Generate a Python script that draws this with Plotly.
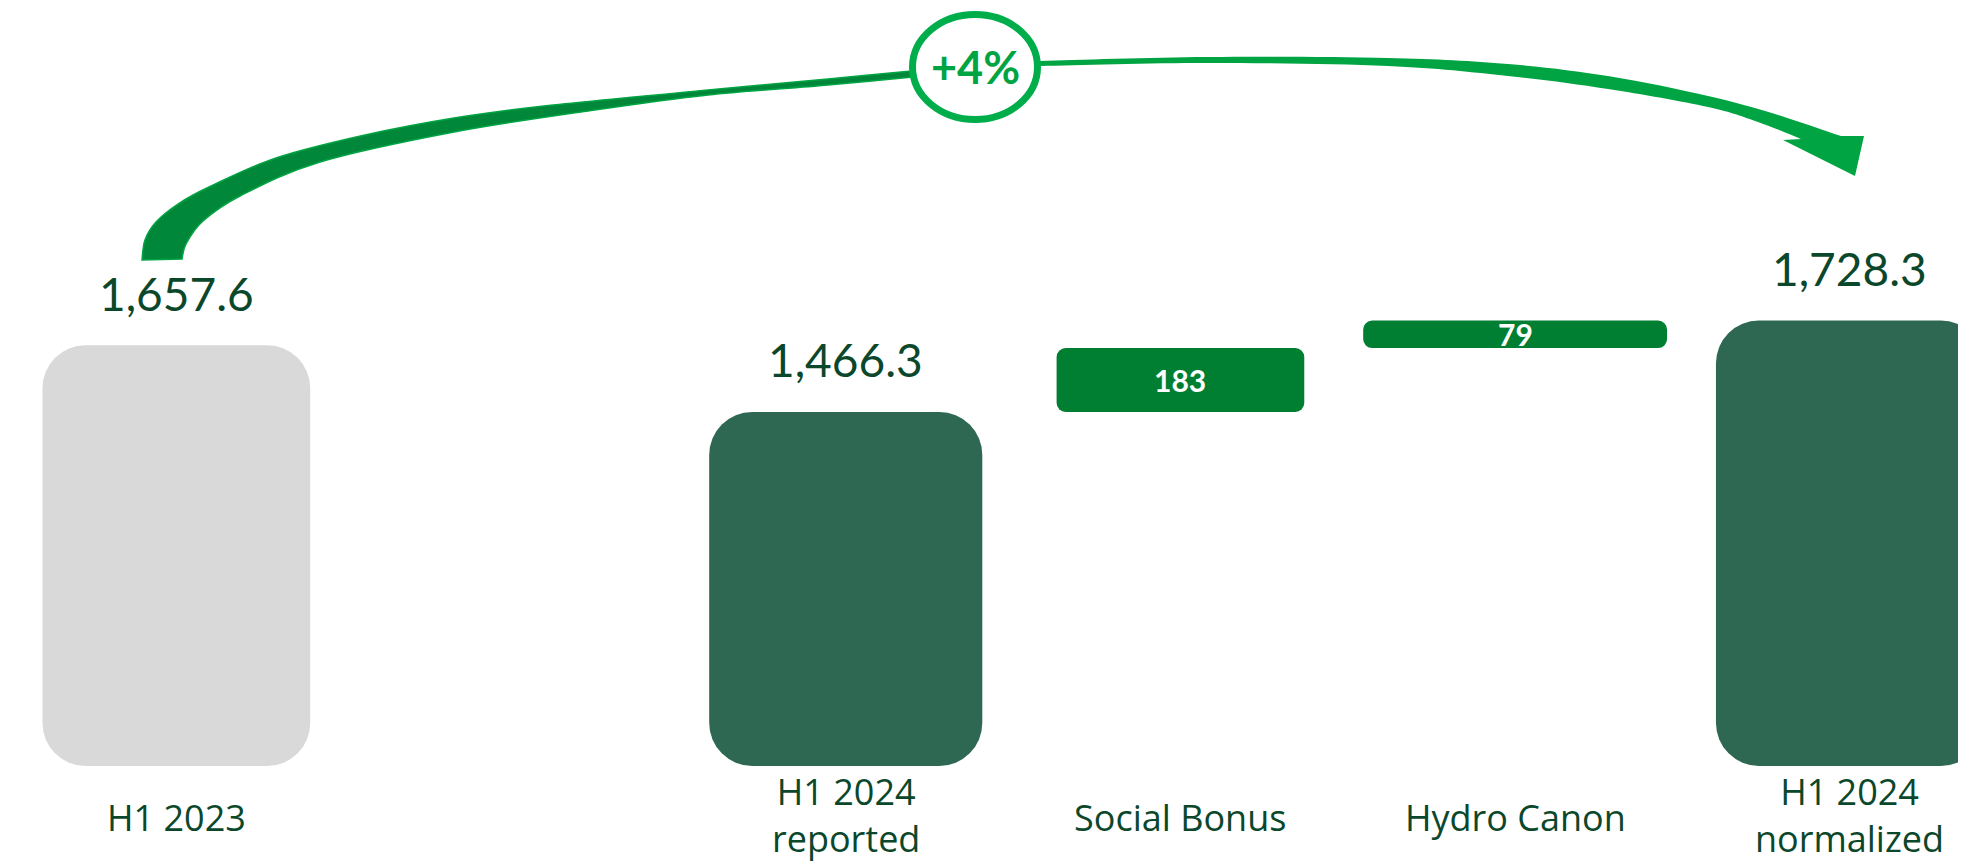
import plotly.graph_objects as go

# ---------------- data ----------------
labels = ["H1 2023", "H1 2024<br>reported", "Social Bonus", "Hydro Canon", "H1 2024<br>normalized"]
kinds = ["total", "total", "delta", "delta", "total"]
values = [1657.6, 1466.3, 183, 79, 1728.3]
SPACER = " "  # empty slot between H1 2023 and H1 2024 reported

# ---------------- style ----------------
W, H = 1966, 862
BASE = 452            # visual baseline of the total bars
Y_RANGE = [153.9, 2623.8]
X_RANGE = [-0.503, 5.371]
TEXT_COL = "#0B472A"
GREY = "#D9D9D9"
DARK = "#2E6853"
DELTA = "#007F33"
ARROW_DARK = "#00873A"
ARROW_LIGHT = "#00A443"
NUM_FONT = "Lato"
CAT_FONT = "Open Sans"

bar_colors = {0: GREY, 1: DARK, 4: DARK}
bar_widths = [0.80, 0.816, 0.74, 0.908, 0.80]

# compute floating ranges (waterfall)
bottoms, tops = [], []
running = 0
for k, v in zip(kinds, values):
    if k == "total":
        bottoms.append(BASE)
        tops.append(v)
        running = v
    else:
        bottoms.append(running)
        tops.append(running + v)
        running += v

def texts(k, v):
    return f"{v:,.1f}" if k == "total" else f"{v:,.0f}"

fig = go.Figure()

# invisible trace to reserve the spacer slot
fig.add_trace(go.Scatter(x=[SPACER], y=[BASE], mode="markers",
                         marker=dict(opacity=0), hoverinfo="skip", showlegend=False))

def add_bars(idx, radius, color_list):
    fig.add_trace(go.Bar(
        x=[labels[i] for i in idx],
        y=[tops[i] - bottoms[i] for i in idx],
        base=[bottoms[i] for i in idx],
        width=[bar_widths[i] for i in idx],
        marker=dict(color=color_list, line=dict(width=0), cornerradius=radius),
        hoverinfo="skip", showlegend=False))

tot_idx = [i for i, k in enumerate(kinds) if k == "total"]
del_idx = [i for i, k in enumerate(kinds) if k == "delta"]
add_bars(tot_idx, 43, [bar_colors[i] for i in tot_idx])
add_bars(del_idx, 9, [DELTA for _ in del_idx])

annotations = []
# category labels
for lab in labels:
    two = "<br>" in lab
    annotations.append(dict(x=lab, xref="x", y=1 - (807 if two else 809) / H, yref="paper", text=lab,
                            showarrow=False, yanchor="middle",
                            font=dict(family=CAT_FONT, size=36, color=TEXT_COL)))
# value labels
for i, (k, v) in enumerate(zip(kinds, values)):
    if k == "total":
        annotations.append(dict(x=labels[i], y=tops[i], yref="y", text=texts(k, v),
                                showarrow=False, yanchor="middle", yshift=52,
                                font=dict(family=NUM_FONT, size=46, color=TEXT_COL)))
    else:
        annotations.append(dict(x=labels[i], y=(tops[i] + bottoms[i]) / 2, yref="y",
                                text=f"<b>{texts(k, v)}</b>", showarrow=False, yanchor="middle",
                                font=dict(family=NUM_FONT, size=30, color="white")))

# growth badge
growth = values[4] / values[0] - 1
growth_txt = f"<b>+{growth * 100:.0f}%</b>"

# ---------------- decorative arrow ----------------
def P(x, y):
    return f"{x / W:.5f},{1 - y / H:.5f}"

def smooth(pts):
    s = ""
    n = len(pts)
    for i in range(n - 1):
        p0 = pts[i - 1] if i > 0 else pts[i]
        p1, p2 = pts[i], pts[i + 1]
        p3 = pts[i + 2] if i + 2 < n else pts[i + 1]
        c1 = (p1[0] + (p2[0] - p0[0]) / 6, p1[1] + (p2[1] - p0[1]) / 6)
        c2 = (p2[0] - (p3[0] - p1[0]) / 6, p2[1] - (p3[1] - p1[1]) / 6)
        s += f" C {P(*c1)} {P(*c2)} {P(*p2)}"
    return s

upper_left = [(134, 252), (137, 232), (148, 214), (170, 196), (201, 179), (268, 150), (357, 127),
              (446, 110), (536, 98), (700, 82), (820, 71), (935, 60)]
lower_left = [(935, 66), (820, 77), (700, 87), (580, 103), (446, 124), (312, 154), (232, 188),
              (195, 213), (178, 236), (174, 251)]
left_path = "M " + P(*upper_left[0]) + smooth(upper_left) + " L " + P(*lower_left[0]) + smooth(lower_left) + " Z"

upper_right = [(1000, 55), (1033, 53), (1200, 49), (1380, 50), (1500, 56), (1600, 68), (1700, 88),
               (1767, 106), (1833, 128)]
head = [(1856, 128), (1847, 168), (1775, 132), (1793, 131)]
lower_right = [(1793, 131), (1750, 114), (1700, 99), (1600, 81), (1500, 68), (1380, 58), (1200, 55),
               (1033, 58), (1000, 59)]
right_path = ("M " + P(*upper_right[0]) + smooth(upper_right) + "".join(" L " + P(*h) for h in head)
              + smooth(lower_right) + " Z")

shapes = [
    dict(type="path", path=left_path, xref="paper", yref="paper", fillcolor=ARROW_DARK,
         line=dict(color=ARROW_LIGHT, width=1.5)),
    dict(type="path", path=right_path, xref="paper", yref="paper", fillcolor=ARROW_LIGHT,
         line=dict(width=0)),
    dict(type="circle", xref="paper", yref="paper",
         x0=(967 - 62.5) / W, x1=(967 + 62.5) / W, y0=1 - (59 + 52.5) / H, y1=1 - (59 - 52.5) / H,
         fillcolor="white", line=dict(color="#00AD4B", width=7)),
]
annotations.append(dict(x=967 / W, y=1 - 59 / H, xref="paper", yref="paper", text=growth_txt,
                        showarrow=False, xanchor="center", yanchor="middle",
                        font=dict(family=NUM_FONT, size=45, color=ARROW_LIGHT)))

fig.update_layout(
    width=W, height=H, margin=dict(l=0, r=0, t=0, b=0),
    paper_bgcolor="white", plot_bgcolor="white",
    barmode="overlay", showlegend=False,
    xaxis=dict(type="category", categoryorder="array",
               categoryarray=[labels[0], SPACER] + labels[1:], range=X_RANGE,
               visible=False, fixedrange=True),
    yaxis=dict(range=Y_RANGE, visible=False, fixedrange=True),
    shapes=shapes, annotations=annotations,
)

fig.write_html("out.html")
